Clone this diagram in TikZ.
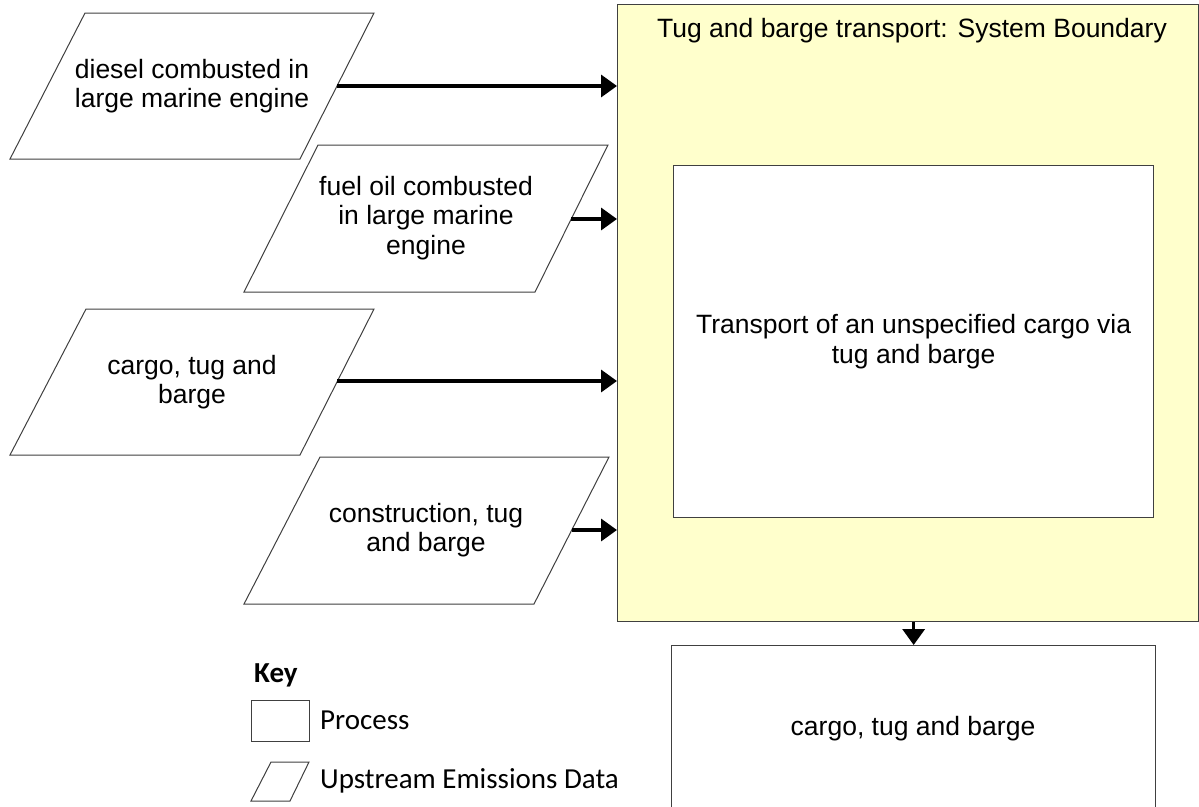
\documentclass[tikz,border=0pt]{standalone}
\usepackage{fontspec}
\setmainfont{Liberation Sans}
\newfontfamily\keyfont{Carlito}
\usetikzlibrary{arrows.meta}
\definecolor{sysyellow}{RGB}{255,255,204}
\definecolor{edgegray}{RGB}{64,64,64}
\begin{document}
\begin{tikzpicture}[x=1pt,y=-1pt,
  para/.style={draw=edgegray, line width=1pt, fill=white},
  lbl/.style={font=\fontsize{26.5}{29.5}\selectfont, align=center, inner sep=0pt},
  keylbl/.style={font=\keyfont\fontsize{29}{33}\selectfont, anchor=west, inner sep=0pt},
  procbox/.style={draw=edgegray, line width=1.3pt, fill=white, inner sep=0pt, anchor=north west},
  flow/.style={line width=3.5pt, -{Triangle[length=16pt,width=22pt]}},
]
\useasboundingbox (0,0) rectangle (1199,806);
\clip (0,0) rectangle (1199,806);

% system boundary
\node[draw=edgegray, line width=1.3pt, fill=sysyellow, minimum width=581pt, minimum height=617pt, inner sep=0pt, anchor=north west] (sys) at (617,4) {};
\node[lbl] (systitle) at (912,31) {Tug and barge transport: System Boundary};

% inner process
\node[procbox, minimum width=480pt, minimum height=352pt] (proc) at (673,165) {};
\node[lbl] (proctext) at (proc.center) {Transport of an unspecified cargo via\\tug and barge};

% output process
\node[procbox, minimum width=484pt, minimum height=170pt] (out) at (671,645) {};
\node[lbl] (outtext) at (913,729) {cargo, tug and barge};

% upstream data parallelograms
\draw[para] (85,13) -- (374,13) -- (300,159) -- (10,159) -- cycle;
\node[lbl] (d1) at (192,86) {diesel combusted in\\large marine engine};
\coordinate (d1e) at (337,86);

\draw[para] (318,145) -- (608,145) -- (535,292) -- (244,292) -- cycle;
\node[lbl] (d2) at (426,218) {fuel oil combusted\\in large marine\\engine};
\coordinate (d2e) at (571,219);

\draw[para] (86,309) -- (374,309) -- (300,455) -- (10,455) -- cycle;
\node[lbl] (d3) at (192,382) {cargo, tug and\\barge};
\coordinate (d3e) at (337,381);

\draw[para] (320,457) -- (609,457) -- (534,604) -- (244,604) -- cycle;
\node[lbl] (d4) at (426,530) {construction, tug\\and barge};
\coordinate (d4e) at (572,530);

% connectors
\draw[flow] (d1e) -- (d1e -| sys.west);
\draw[flow] (d2e) -- (d2e -| sys.west);
\draw[flow] (d3e) -- (d3e -| sys.west);
\draw[flow] (d4e) -- (d4e -| sys.west);
\draw[flow] (out.north |- sys.south) -- (out.north);

% key
\node[keylbl, font=\keyfont\bfseries\fontsize{29}{33}\selectfont] (keytitle) at (254,675) {Key};
\node[procbox, line width=1pt, minimum width=58pt, minimum height=41pt] (keyproc) at (251,700) {};
\node[keylbl] (keyproctext) at (320,720) {Process};
\draw[para] (271,762) -- (309,762) -- (290,801) -- (251,801) -- cycle;
\node[keylbl] (keyparatext) at (320,781) {Upstream Emissions Data};
\end{tikzpicture}
\end{document}
